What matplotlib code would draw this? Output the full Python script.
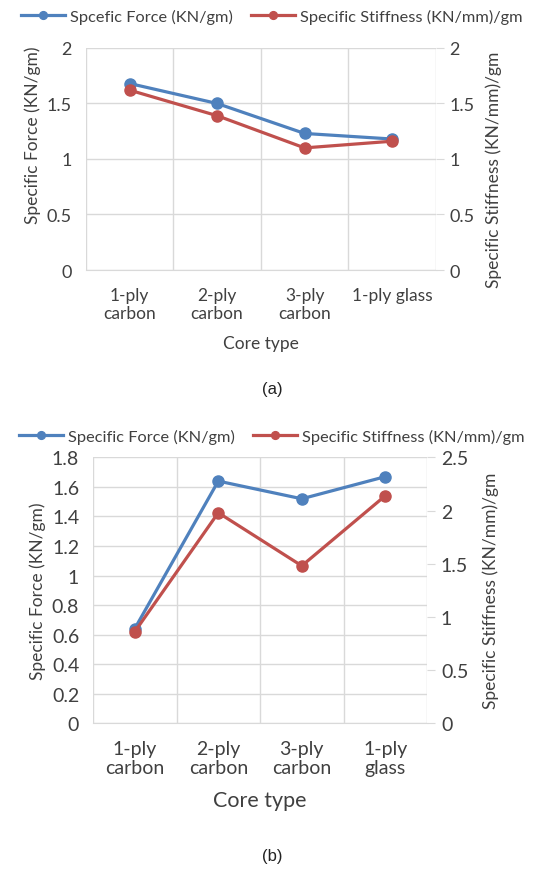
import matplotlib
matplotlib.use('Agg')
import matplotlib.pyplot as plt
import numpy as np

# panel (a)
cats_a = ['1-ply\ncarbon', '2-ply\ncarbon', '3-ply\ncarbon', '1-ply glass']
force_a = [1.68, 1.50, 1.23, 1.18]
stiff_a = [1.62, 1.39, 1.10, 1.16]

# panel (b)
cats_b = ['1-ply\ncarbon', '2-ply\ncarbon', '3-ply\ncarbon', '1-ply\nglass']
force_b = [0.64, 1.64, 1.52, 1.67]
stiff_b = [0.86, 1.98, 1.48, 2.14]

BLUE = '#4f81bd'
RED = '#c0504d'
GRID = '#d9d9d9'
TXT = '#404040'

plt.rcParams['font.family'] = ['Lato', 'DejaVu Sans']

fig = plt.figure(figsize=(5.44, 8.7), dpi=100)


def panel(rect, cats, force, stiff, lylim, lyticks, rylim, ryticks,
          tick_fs, xt_fs, xlab_fs, force_label, legend_y, cap, cap_y, rpad):
    ax = fig.add_axes(rect)
    ax2 = ax.twinx()
    x = np.arange(len(cats))
    l1, = ax.plot(x, force, '-o', color=BLUE, lw=2.3, ms=8, label=force_label)
    l2, = ax2.plot(x, stiff, '-o', color=RED, lw=2.3, ms=8,
                   label='Specific Stiffness (KN/mm)/gm')
    ax.set_xlim(-0.5, len(cats) - 0.5)
    ax.set_ylim(*lylim)
    ax.set_yticks(lyticks)
    ax2.set_ylim(*rylim)
    ax2.set_yticks(ryticks)
    ax.set_yticklabels([('%g' % v) for v in lyticks])
    ax2.set_yticklabels([('%g' % v) for v in ryticks])
    ax.set_xticks(x)
    ax.set_xticklabels(cats, fontsize=xt_fs, color=TXT, linespacing=1.2)
    # category borders as vertical grid
    ax.set_xticks(np.arange(-0.5, len(cats)), minor=True)
    ax.grid(True, which='minor', axis='x', color=GRID, lw=1)
    ax.grid(True, which='major', axis='y', color=GRID, lw=1)
    ax.set_axisbelow(True)
    for a in (ax, ax2):
        for s in a.spines.values():
            s.set_visible(False)
    ax.spines['bottom'].set_visible(True)
    ax.spines['bottom'].set_color(GRID)
    ax.tick_params(axis='x', which='both', length=0, pad=12)
    ax.tick_params(axis='y', length=0, labelsize=tick_fs, labelcolor=TXT, pad=10)
    ax2.tick_params(axis='y', length=6, color=GRID, labelsize=tick_fs,
                    labelcolor=TXT, pad=4)
    ax.set_ylabel('Specific Force (KN/gm)', fontsize=12.5, color=TXT,
                  labelpad=4)
    ax2.set_ylabel('Specific Stiffness (KN/mm)/gm', fontsize=12.5,
                   color=TXT, labelpad=rpad)
    ax.set_xlabel('Core type', fontsize=xlab_fs, color=TXT, labelpad=10)
    fig.legend(handles=[l1, l2], loc='center', ncol=2,
               bbox_to_anchor=(0.5, legend_y), frameon=False,
               fontsize=11.8, handlelength=2.7, handletextpad=0.3,
               columnspacing=1.1, markerscale=0.7, labelcolor=TXT)
    fig.text(0.5, cap_y, cap, ha='center', va='center', fontsize=12,
             family='Liberation Sans', color='#222222')
    return ax, ax2


ax_a, ax_a2 = panel([0.158, 0.6885, 0.643, 0.2552], cats_a, force_a, stiff_a,
                    (0, 2), [0, 0.5, 1, 1.5, 2], (0, 2), [0, 0.5, 1, 1.5, 2],
                    13, 12.5, 12.5, 'Spcefic Force (KN/gm)', 1 - 17 / 870,
                    '(a)', 1 - 390 / 870, 8)
# axis titles of panel (a) sit off-centre in the original
ax_a.yaxis.label.set_y(0.61)
ax_a2.yaxis.label.set_y(0.455)

panel([0.171, 0.1678, 0.614, 0.3052], cats_b, force_b, stiff_b,
      (0, 1.8), np.round(np.arange(0, 1.81, 0.2), 1), (0, 2.5),
      [0, 0.5, 1, 1.5, 2, 2.5],
      14, 14, 15.5, 'Specific Force (KN/gm)', 1 - 437 / 870,
      '(b)', 1 - 857 / 870, 10)

fig.savefig('out.png', dpi=100)
